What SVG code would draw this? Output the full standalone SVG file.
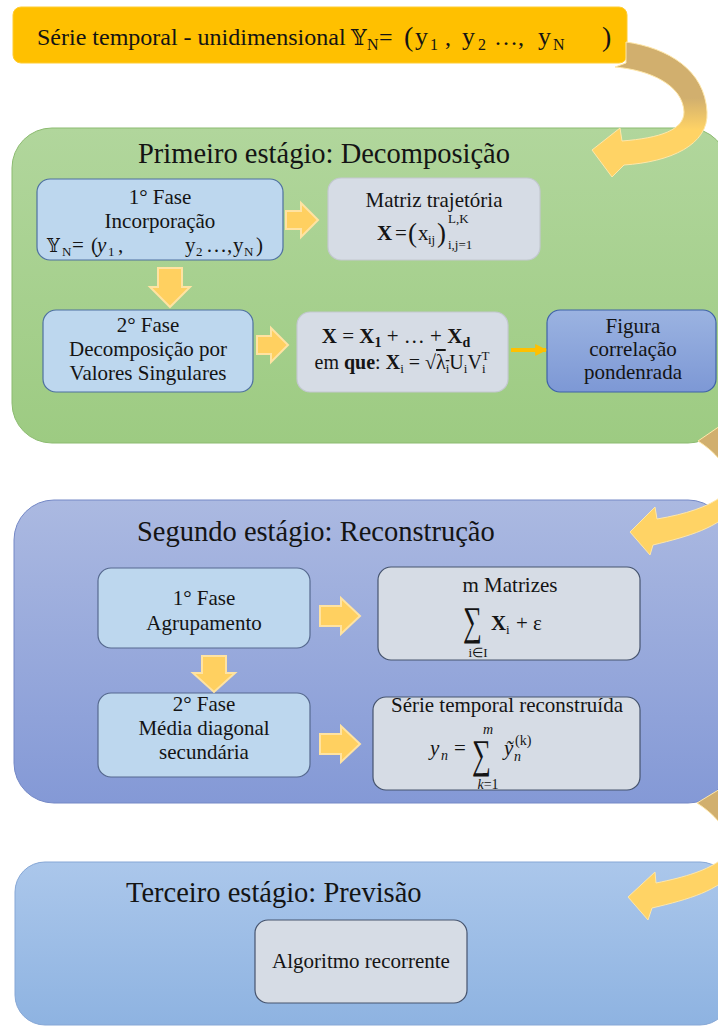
<svg xmlns="http://www.w3.org/2000/svg" width="718" height="1026" viewBox="0 0 718 1026">
<defs>
  <linearGradient id="gGreen" x1="0" y1="0" x2="0" y2="1">
    <stop offset="0" stop-color="#B1D69C"/>
    <stop offset="1" stop-color="#9DCB82"/>
  </linearGradient>
  <linearGradient id="gBlue2" x1="0" y1="0" x2="0" y2="1">
    <stop offset="0" stop-color="#ABB9E1"/>
    <stop offset="1" stop-color="#8499D6"/>
  </linearGradient>
  <linearGradient id="gBlue3" x1="0" y1="0" x2="0" y2="1">
    <stop offset="0" stop-color="#ABC7EB"/>
    <stop offset="1" stop-color="#8EB3E1"/>
  </linearGradient>
  <linearGradient id="gFig" x1="0" y1="0" x2="0" y2="1">
    <stop offset="0" stop-color="#9BB3E1"/>
    <stop offset="1" stop-color="#7D98D5"/>
  </linearGradient>
  <linearGradient id="gArc1" gradientUnits="userSpaceOnUse" x1="0" y1="98" x2="0" y2="130">
    <stop offset="0" stop-color="#D1AF6E"/>
    <stop offset="1" stop-color="#FFD365"/>
  </linearGradient>
  <linearGradient id="gArc2" gradientUnits="userSpaceOnUse" x1="0" y1="462" x2="0" y2="495">
    <stop offset="0" stop-color="#D1AF6E"/>
    <stop offset="1" stop-color="#FFD365"/>
  </linearGradient>
  <linearGradient id="gArc3" gradientUnits="userSpaceOnUse" x1="0" y1="826" x2="0" y2="859">
    <stop offset="0" stop-color="#D1AF6E"/>
    <stop offset="1" stop-color="#FFD365"/>
  </linearGradient>
  <marker id="mh" viewBox="0 0 10 10" refX="9" refY="5" markerWidth="3" markerHeight="3" orient="auto" markerUnits="strokeWidth">
    <path d="M0,0 L10,5 L0,10 Z" fill="#FFC000"/>
  </marker>
</defs>
<style>
  .t { font-family: "Liberation Serif", "Times New Roman", serif; fill: #141414; }
  .title { font-size: 28.5px; }
  .lb { font-size: 21px; text-anchor: middle; }
  .b { font-weight: bold; }
  .it { font-style: italic; }
  .ds { font-family: "DejaVu Serif", "DejaVu Sans", serif; }
  .blk { fill: #FFD060; stroke: #FFE3A2; stroke-width: 2; }
  .nodeL1 { fill: #BDD7EE; stroke: #4F71A0; stroke-width: 1.2; }
  .nodeL2 { fill: #BDD7EE; stroke: #56698F; stroke-width: 1.2; }
  .nodeG1 { fill: #D6DCE5; stroke: #C3C8D0; stroke-width: 1.2; }
  .nodeG2 { fill: #D6DCE5; stroke: #46546E; stroke-width: 1.2; }
  .arc { stroke: #FFE7A8; stroke-width: 1; }
</style>

<!-- Stage panels -->
<g id="stage3">
  <rect x="15" y="862" width="715" height="163" rx="30" fill="url(#gBlue3)" stroke="#86A7D6" stroke-width="1"/>
  <text class="t title" x="126" y="902">Terceiro estágio: Previsão</text>
</g>
<g id="node-algoritmo">
  <rect x="255" y="920" width="212" height="83" rx="13" class="nodeG2"/>
  <text class="t lb" x="361" y="968">Algoritmo  recorrente</text>
</g>

<g id="stage2">
  <rect x="14" y="500" width="714" height="303" rx="40" fill="url(#gBlue2)" stroke="#7488C6" stroke-width="1"/>
  <text class="t title" x="137" y="541">Segundo estágio: Reconstrução</text>
</g>
<g id="node-agrupamento">
  <rect x="98" y="568" width="212" height="80" rx="13" class="nodeL2"/>
  <text class="t lb" x="204" y="605">1° Fase</text>
  <text class="t lb" x="204" y="630">Agrupamento</text>
</g>
<g id="node-matrizes">
  <rect x="378" y="567" width="262" height="93" rx="13" class="nodeG2"/>
  <text class="t lb" x="510" y="592">m Matrizes</text>
  <text class="t" font-size="34" transform="translate(463,635) scale(0.78,1.2)">∑</text>
  <text class="t" font-size="21"><tspan class="b" x="491" y="630">X</tspan><tspan x="506" y="634" font-size="13">i</tspan><tspan x="516" y="630">+ ε</tspan></text>
  <text class="t" font-size="13" x="478" y="657" text-anchor="middle">i∈I</text>
</g>
<g id="node-media">
  <rect x="98" y="693" width="212" height="84" rx="13" class="nodeL2"/>
  <text class="t lb" x="204" y="711">2° Fase</text>
  <text class="t lb" x="204" y="735">Média diagonal</text>
  <text class="t lb" x="204" y="759">secundária</text>
</g>
<g id="node-serie-rec">
  <rect x="373" y="697" width="267" height="93" rx="13" class="nodeG2"/>
  <text class="t lb" x="507" y="712">Série temporal reconstruída</text>
  <text class="t it" font-size="14" x="488" y="734" text-anchor="middle">m</text>
  <text class="t" font-size="21"><tspan class="it" x="430" y="755">y</tspan><tspan class="it" x="441" y="760" font-size="14">n</tspan><tspan x="454" y="755">=</tspan><tspan class="it" x="504" y="755">ỹ</tspan><tspan class="it" x="514" y="761" font-size="14">n</tspan><tspan x="515" y="745" font-size="14">(k)</tspan></text>
  <text class="t" font-size="34" transform="translate(472,768) scale(0.78,1.2)">∑</text>
  <text class="t" font-size="14" x="488" y="789" text-anchor="middle"><tspan class="it">k</tspan>=1</text>
</g>

<g id="stage1">
  <rect x="12" y="128" width="716" height="315" rx="40" fill="url(#gGreen)" stroke="#8CBB70" stroke-width="1"/>
  <text class="t title" x="138" y="163">Primeiro estágio: Decomposição</text>
</g>
<g id="node-incorporacao">
  <rect x="37" y="179" width="246" height="81" rx="13" class="nodeL1"/>
  <text class="t lb" x="160" y="204">1° Fase</text>
  <text class="t lb" x="160" y="228">Incorporação</text>
  <text class="t" font-size="21"><tspan class="ds" x="47" y="252" font-size="18">𝕐</tspan><tspan x="62" y="256" font-size="13">N</tspan><tspan x="72" y="252">=</tspan><tspan x="91" y="252">(</tspan><tspan class="it" x="97" y="252">y</tspan><tspan x="108" y="256" font-size="13">1</tspan><tspan x="118" y="252">,</tspan><tspan x="185" y="252">y</tspan><tspan x="196" y="256" font-size="13">2</tspan><tspan x="206" y="252">…,</tspan><tspan x="233" y="252">y</tspan><tspan x="244" y="256" font-size="13">N</tspan><tspan x="256" y="252">)</tspan></text>
</g>
<g id="node-matriz">
  <rect x="328" y="178" width="212" height="82" rx="13" class="nodeG1"/>
  <text class="t lb" x="434" y="207">Matriz  trajetória</text>
  <text class="t" font-size="21"><tspan class="b" x="377" y="240">X</tspan><tspan x="395" y="240">=</tspan><tspan x="408" y="242" font-size="27">(</tspan><tspan x="418" y="240">x</tspan><tspan x="428" y="244" font-size="13">ij</tspan><tspan x="437" y="242" font-size="27">)</tspan><tspan x="448" y="223" font-size="13">L,K</tspan><tspan x="448" y="249" font-size="13">i,j=1</tspan></text>
</g>
<g id="node-decomp">
  <rect x="43" y="310" width="210" height="82" rx="13" class="nodeL1"/>
  <text class="t lb" x="148" y="332">2° Fase</text>
  <text class="t lb" x="148" y="356">Decomposição por</text>
  <text class="t lb" x="148" y="380">Valores  Singulares</text>
</g>
<g id="node-formula">
  <rect x="297" y="312" width="211" height="80" rx="13" class="nodeG1"/>
  <text class="t" font-size="21" x="396" y="343" text-anchor="middle"><tspan class="b">X</tspan> = <tspan class="b">X</tspan><tspan class="b" font-size="14" dy="4">1</tspan><tspan dy="-4"> + … + </tspan><tspan class="b">X</tspan><tspan class="b" font-size="14" dy="4">d</tspan></text>
  <text class="t" font-size="20" x="402" y="369" text-anchor="middle">em <tspan class="b">que</tspan>: <tspan class="b">X</tspan><tspan font-size="13" dy="4">i</tspan><tspan dy="-4"> = √</tspan><tspan text-decoration="overline">λ<tspan font-size="13" dy="4">i</tspan></tspan><tspan dy="-4">U</tspan><tspan font-size="13" dy="4">i</tspan><tspan dy="-4">V</tspan><tspan font-size="13" dy="4">i</tspan><tspan font-size="13" dx="-4" dy="-13">T</tspan></text>
</g>
<g id="node-figura">
  <rect x="547" y="310" width="169" height="82" rx="13" fill="url(#gFig)" stroke="#3F62A8" stroke-width="1.2"/>
  <text class="t lb" x="633" y="333">Figura</text>
  <text class="t lb" x="633" y="356">correlação</text>
  <text class="t lb" x="633" y="379">pondenrada</text>
</g>

<g id="node-serie">
  <rect x="13" y="7" width="614" height="56" rx="8" fill="#FFC000" stroke="#FFCD33" stroke-width="1"/>
  <text class="t" font-size="24"><tspan x="37" y="45">Série temporal - unidimensional</tspan><tspan class="ds" x="351" y="45" font-size="22">𝕐</tspan><tspan x="367" y="50" font-size="16">N</tspan><tspan x="379" y="45">=</tspan><tspan x="404" y="46" font-size="28">(</tspan><tspan x="415" y="45" font-size="26">y</tspan><tspan x="430" y="50" font-size="16">1</tspan><tspan x="445" y="45">,</tspan><tspan x="462" y="45" font-size="26">y</tspan><tspan x="478" y="50" font-size="16">2</tspan><tspan x="494" y="45">…,</tspan><tspan x="538" y="45" font-size="26">y</tspan><tspan x="553" y="50" font-size="16">N</tspan><tspan x="602" y="46" font-size="28">)</tspan></text>
</g>

<!-- Connectors -->
<g id="connectors">
  <path class="blk" d="M286,211 H301 V203 L318,220 L301,237 V229 H286 Z"/>
  <path class="blk" d="M158,268 H182 V287 H190 L170,307 L150,287 H158 Z"/>
  <path class="blk" d="M257,336 H271 V328 L288,345 L271,362 V354 H257 Z"/>
  <line x1="511" y1="350" x2="546" y2="350" stroke="#FFC000" stroke-width="4" marker-end="url(#mh)"/>
  <path class="blk" d="M320,606 H341 V598 L360,616 L341,634 V626 H320 Z"/>
  <path class="blk" d="M202,656 H226 V673 H235 L214,692 L193,673 H202 Z"/>
  <path class="blk" d="M320,734 H341 V726 L360,744 L341,762 V754 H320 Z"/>
  <path class="arc" fill="url(#gArc1)" d="M626,42 C668,48 705,70 707,112 C709,145 670,162 624,165 L612,177 L592,150 L620,128 L622,141 C660,138 684,130 684,112 C683,85 650,70 615,67 L626,63 Z"/>
  <path class="arc" fill="url(#gArc2)" d="M720,426 C742,452 752,488 737,506 C718,528 690,536 653,545 L650,555 L630,532 L655,507 L657,519 C686,514 708,507 722,496 C735,480 725,458 698,441 Z"/>
  <path class="arc" fill="url(#gArc3)" d="M720,789 C742,815 752,851 737,869 C718,891 690,899 652,908 L648,920 L628,897 L655,872 L656,883 C686,877 708,870 722,859 C735,843 725,821 697,803 Z"/>
</g>
</svg>
